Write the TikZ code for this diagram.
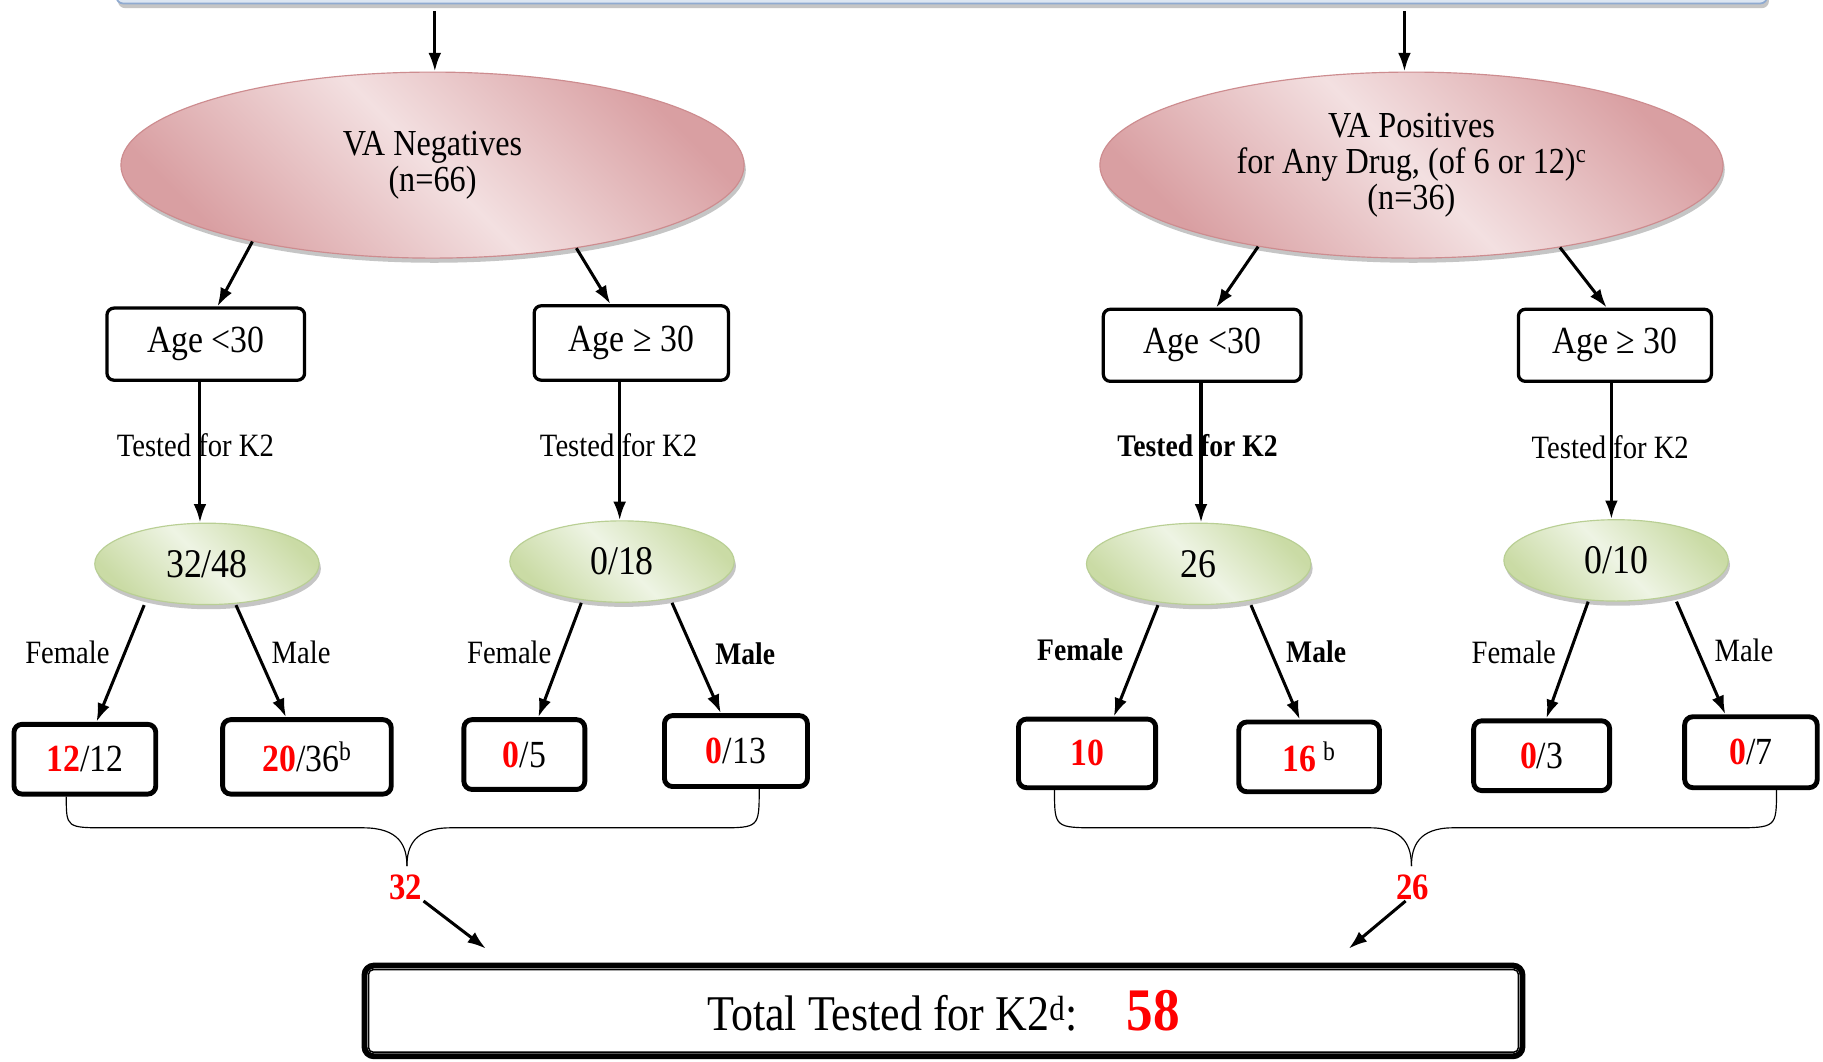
\documentclass[tikz,border=0pt]{standalone}
\usepackage{fontspec}
\setmainfont{Liberation Serif}[FakeStretch=0.88]
\usetikzlibrary{arrows.meta,shapes.geometric,shadows}
\definecolor{pinkL}{HTML}{F3E0E1}
\definecolor{pinkD}{HTML}{D99FA2}
\definecolor{pinkB}{HTML}{CD8C8F}
\definecolor{grnL}{HTML}{EEF4E4}
\definecolor{grnD}{HTML}{CADBA5}
\definecolor{grnB}{HTML}{B9CF94}
\definecolor{barF}{HTML}{DCE6F2}
\definecolor{barB}{HTML}{8FAAD0}
\definecolor{txtred}{HTML}{FF0000}
\newcommand{\rb}[1]{\textcolor{txtred}{\bfseries #1}}
\tikzset{
  arr/.style={line width=2.6pt, -{Latex[length=16pt,width=11pt]}},
  shad/.style={drop shadow={shadow xshift=1.5pt, shadow yshift=-4pt, fill=black!45}},
  topbar/.style={draw=barB, line width=1.5pt, fill=barF, rounded corners=6pt, minimum width=1420pt, minimum height=60pt, shad},
  bigell/.style={ellipse, draw=pinkB, line width=1pt, minimum width=536pt, minimum height=160pt, inner sep=0pt, left color=pinkD, right color=pinkD, middle color=pinkL, shading angle=135, shad, align=center, font=\fontsize{31.5}{31}\selectfont},
  smell/.style={ellipse, draw=grnB, line width=1pt, minimum width=193pt, minimum height=70pt, inner sep=0pt, left color=grnD, right color=grnD, middle color=grnL, shading angle=135, shad, font=\fontsize{35}{36}\selectfont},
  agebox/.style={draw, line width=2.8pt, rounded corners=6pt, fill=white, inner sep=0pt, font=\fontsize{33}{34}\selectfont},
  numbox/.style={draw, line width=4.2pt, rounded corners=7pt, fill=white, inner sep=0pt, font=\fontsize{33}{34}\selectfont},
  lab/.style={inner sep=0pt, font=\fontsize{28}{30}\selectfont},
  blab/.style={inner sep=0pt, font=\fontsize{27}{30}\selectfont\bfseries},
  sumlab/.style={inner sep=1pt, text=txtred, font=\fontsize{32}{34}\selectfont\bfseries},
  totbox/.style={draw, line width=5pt, rounded corners=8pt, fill=white, inner sep=0pt, minimum width=996pt, minimum height=78pt},
  brace/.style={line width=1pt},
}
\begin{document}
\begin{tikzpicture}[x=1pt,y=-1pt]
\clip (0,0) rectangle (1568,913);
\fill[white] (0,0) rectangle (1568,913);
% top bar
\node[topbar] (top) at (810,-27) {};
% big ellipses
\node[bigell] (n1) at (372,142) {VA Negatives\\(n=66)};
\node[bigell] (n2) at (1214,142) {VA Positives\\for Any Drug, (of 6 or 12)\textsuperscript{c}\\(n=36)};
\draw[arr] ([xshift=-436pt,yshift=-6pt]top.south) -- ([xshift=-436pt]top.south |- n1.north);
\draw[arr] ([xshift=398pt,yshift=-6pt]top.south) -- ([xshift=398pt]top.south |- n2.north);
% age boxes
\node[agebox, minimum width=170pt, minimum height=62pt] (a1) at (177,296) {Age <30};
\node[agebox, minimum width=167pt, minimum height=64pt] (a2) at (543,295) {Age ≥ 30};
\node[agebox, minimum width=170pt, minimum height=62pt] (a3) at (1034,297) {Age <30};
\node[agebox, minimum width=166pt, minimum height=62pt] (a4) at (1389,297) {Age ≥ 30};
\draw[arr] (n1.203) -- ([xshift=10pt]a1.north);
\draw[arr] (n1.330) -- ([xshift=-18pt]a2.north);
\draw[arr] (n2.208) -- ([xshift=12pt]a3.north);
\draw[arr] (n2.331) -- ([xshift=-7pt]a4.north);
% green ellipses
\node[smell] (g1) at (178,485) {32/48};
\node[smell] (g2) at (535,483) {0/18};
\node[smell] (g3) at (1031,485) {26};
\node[smell] (g4) at (1390,482) {0/10};
\draw[arr] ([xshift=-5pt]a1.south) -- ([xshift=-5pt]a1.south |- g1.north);
\draw[arr] ([xshift=-10pt]a2.south) -- ([xshift=-10pt]a2.south |- g2.north);
\draw[arr] ([xshift=-1pt]a3.south) -- ([xshift=-1pt]a3.south |- g3.north);
\draw[arr] ([xshift=-3pt]a4.south) -- ([xshift=-3pt]a4.south |- g4.north);
\node[lab] (t1) at (168,383) {Tested for K2};
\node[lab] (t2) at (532,383) {Tested for K2};
\node[blab] (t3) at (1030,383) {Tested for K2};
\node[lab] (t4) at (1385,385) {Tested for K2};
% number boxes
\node[numbox, minimum width=122pt, minimum height=60pt] (b1) at (73,653) {\rb{12}/12};
\node[numbox, minimum width=145pt, minimum height=64pt] (b2) at (264,651) {\rb{20}/36\textsuperscript{b}};
\node[numbox, minimum width=104pt, minimum height=60pt] (b3) at (451,649) {\rb{0}/5};
\node[numbox, minimum width=123pt, minimum height=61pt] (b4) at (633,646) {\rb{0}/13};
\node[numbox, minimum width=118pt, minimum height=59pt] (b5) at (935,648) {\rb{10}};
\node[numbox, minimum width=121pt, minimum height=60pt] (b6) at (1126,651) {\rb{16}\,\textsuperscript{b}};
\node[numbox, minimum width=117pt, minimum height=60pt] (b7) at (1326,650) {\rb{0}/3};
\node[numbox, minimum width=114pt, minimum height=61pt] (b8) at (1506,647) {\rb{0}/7};
\draw[arr] ([xshift=-54pt]g1.south) -- ([xshift=10pt]b1.north);
\draw[arr] ([xshift=25pt]g1.south) -- ([xshift=-18pt]b2.north);
\draw[arr] ([xshift=-35pt]g2.south) -- ([xshift=12pt]b3.north);
\draw[arr] ([xshift=43pt]g2.south) -- ([xshift=-13pt]b4.north);
\draw[arr] ([xshift=-35pt]g3.south) -- ([xshift=23pt]b5.north);
\draw[arr] ([xshift=45pt]g3.south) -- ([xshift=-8pt]b6.north);
\draw[arr] ([xshift=-24pt]g4.south) -- ([xshift=4pt]b7.north);
\draw[arr] ([xshift=52pt]g4.south) -- ([xshift=-22pt]b8.north);
\node[lab] (f1) at (58,561) {Female};
\node[lab] (m1) at (259,561) {Male};
\node[lab] (f2) at (438,561) {Female};
\node[blab] (m2) at (641,562) {Male};
\node[blab] (f3) at (929,559) {Female};
\node[blab] (m3) at (1132,561) {Male};
\node[lab] (f4) at (1302,561) {Female};
\node[lab] (m4) at (1500,559) {Male};
% braces
\coordinate (tipL) at (350,745);
\coordinate (tipR) at (1214,745);
\draw[brace] ([xshift=-16pt]b1.south) .. controls (57,712) .. (92,712) -- (312,712) .. controls (344,712) and (350,728) .. (tipL);
\draw[brace] (tipL) .. controls (350,728) and (356,712) .. (388,712) -- (618,712) .. controls (653,712) .. ([xshift=20pt]b4.south);
\draw[brace] ([xshift=-28pt]b5.south) .. controls (907,712) .. (945,712) -- (1178,712) .. controls (1208,712) and (1214,728) .. (tipR);
\draw[brace] (tipR) .. controls (1214,728) and (1220,712) .. (1250,712) -- (1490,712) .. controls (1528,712) .. ([xshift=22pt]b8.south);
\node[sumlab] (s32) at (349,763) {32};
\node[sumlab] (s26) at (1215,763) {26};
% total
\node[totbox] (tot) at (811.5,869.5) {{\fontsize{43}{46}\selectfont Total Tested for K2\textsuperscript{d}:}\hspace{42pt}{\fontsize{52}{54}\selectfont\rb{58}}};
\draw[line width=1.3pt, rounded corners=4pt] ([shift={(6pt,-6pt)}]tot.north west) rectangle ([shift={(-6pt,6pt)}]tot.south east);
\draw[arr] (s32.south east) -- ([shift={(107pt,12pt)}]tot.north west);
\draw[arr] ([xshift=-6pt]s26.south) -- ([shift={(-152pt,12pt)}]tot.north east);
\end{tikzpicture}
\end{document}
